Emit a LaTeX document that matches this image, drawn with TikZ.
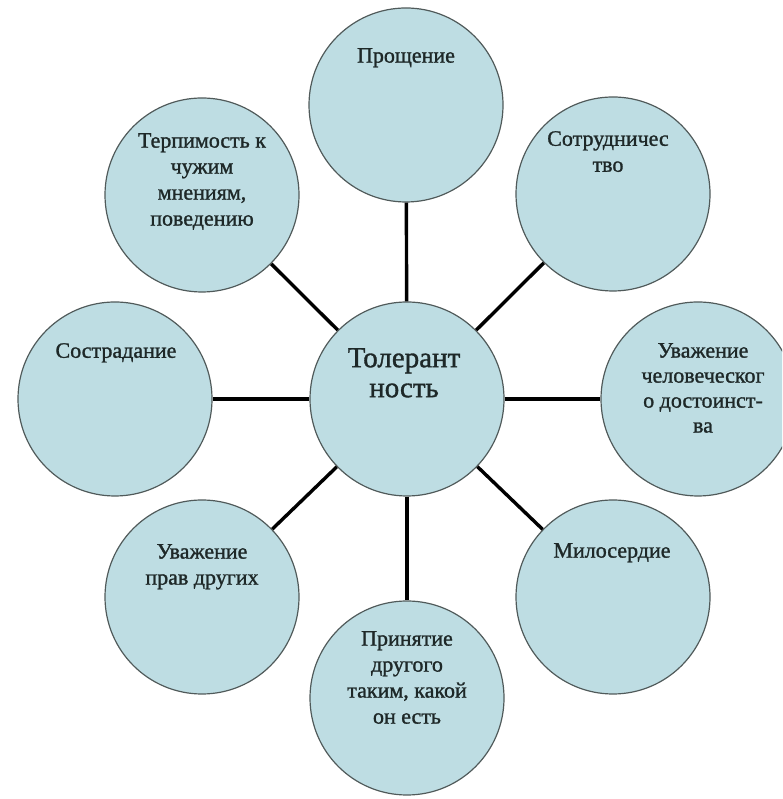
\documentclass[tikz,border=0pt]{standalone}
\usepackage{fontspec}
\setmainfont{Liberation Serif}
\newfontfamily\rserif{Liberation Serif}[FakeBold=1.2]
\definecolor{bubble}{RGB}{190,221,227}
\definecolor{rim}{RGB}{80,90,90}
\definecolor{ink}{RGB}{30,40,40}
\tikzset{
  bubble/.style={circle, draw=rim, line width=1.2pt, fill=bubble, minimum size=194pt, inner sep=0pt},
  lbl/.style={anchor=north, inner sep=0pt, align=center, text=ink, font=\rserif\fontsize{22}{26}\selectfont},
  biglbl/.style={anchor=north, inner sep=0pt, align=center, text=ink, font=\rserif\fontsize{29}{30}\selectfont},
  spoke/.style={line width=3.4pt, black}
}
\begin{document}
\begin{tikzpicture}[x=1pt,y=1pt]
\path[use as bounding box] (0,0) rectangle (782,799);
\begin{scope}
\clip (0,0) rectangle (782,799);
% circles (y = 799 - pixel row)
\node[bubble] (c)  at (407,400) {};
\node[bubble] (n)  at (406,694) {};
\node[bubble] (ne) at (613,605) {};
\node[bubble] (nw) at (202,604) {};
\node[bubble] (w)  at (115,400) {};
\node[bubble] (e)  at (698,400) {};
\node[bubble] (sw) at (202,202) {};
\node[bubble] (se) at (613,202) {};
\node[bubble] (s)  at (407,101) {};
% connectors
\draw[spoke] (c) -- (n);
\draw[spoke] (c) -- (ne);
\draw[spoke] (c) -- (nw);
\draw[spoke] (c) -- (w);
\draw[spoke] (c) -- (e);
\draw[spoke] (c) -- (sw);
\draw[spoke] (c) -- (se);
\draw[spoke] (c) -- (s);
% labels
\node[biglbl] (tc)  at (404,451) {Толерант\\ность};
\node[lbl] (tn)  at (406,751) {Прощение};
\node[lbl] (tne) at (608,668) {Сотрудничес\\тво};
\node[lbl] (tnw) at (202,666) {Терпимость к\\чужим\\мнениям,\\поведению};
\node[lbl] (tw)  at (116,456) {Сострадание};
\node[lbl, font=\rserif\fontsize{22}{25}\selectfont] (te) at (703,456) {Уважение\\человеческог\\о достоинст-\\ва};
\node[lbl] (tsw) at (202,255) {Уважение\\прав других};
\node[lbl] (tse) at (612,256) {Милосердие};
\node[lbl] (ts)  at (407,168) {Принятие\\другого\\таким, какой\\он есть};
\end{scope}
\end{tikzpicture}
\end{document}
